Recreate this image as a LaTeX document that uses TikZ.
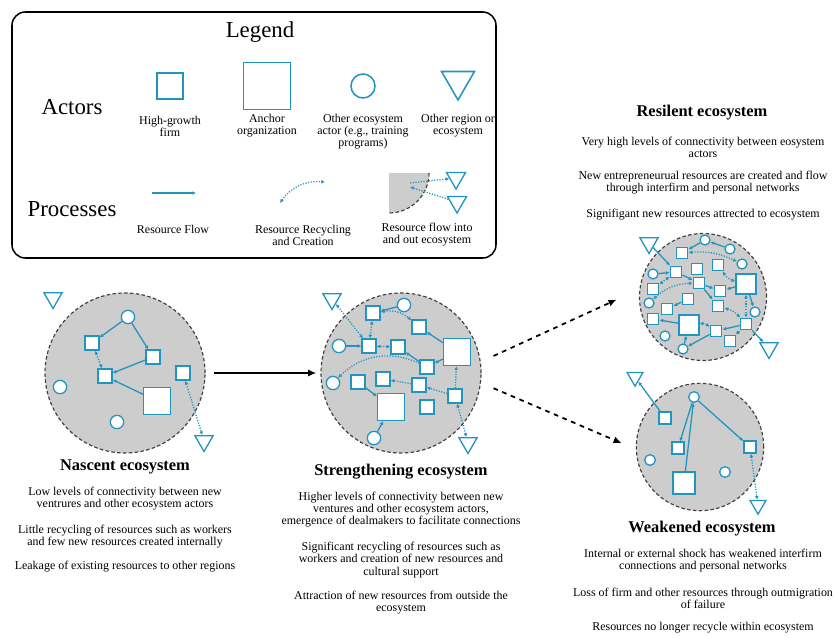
\documentclass[tikz,border=0pt]{standalone}
\usepackage{fontspec}
\setmainfont{Liberation Serif}
\usetikzlibrary{arrows.meta,shapes.geometric}

\definecolor{ecoblue}{RGB}{34,148,192}
\definecolor{ecogray}{RGB}{205,205,205}

\tikzset{
  hgfirm/.style={rectangle, draw=ecoblue, fill=white, line width=1.1pt, inner sep=0pt, minimum size=#1},
  hgfirm/.default=4.2mm,
  anchororg/.style={rectangle, draw=ecoblue, fill=white, line width=1.1pt, inner sep=0pt, minimum size=#1},
  anchororg/.default=8.1mm,
  otheractor/.style={circle, draw=ecoblue, fill=white, line width=1.1pt, inner sep=0pt, minimum size=#1},
  otheractor/.default=4mm,
  otherregion/.style={regular polygon, regular polygon sides=3, shape border rotate=180, draw=ecoblue, fill=white, line width=1.1pt, inner sep=0pt, minimum size=#1},
  otherregion/.default=6.3mm,
  ecodisk/.style={circle, draw=black!75, fill=ecogray, line width=1pt, dash pattern=on 3pt off 2pt, inner sep=0pt, minimum size=#1},
  flow/.style={draw=ecoblue, line width=1.1pt, -{Latex[length=3.2pt,width=3.2pt]}},
  recyc/.style={draw=ecoblue, line width=1.1pt, dash pattern=on 1pt off 1.3pt, {Latex[length=3.2pt,width=3.2pt]}-{Latex[length=3.2pt,width=3.2pt]}},
  recout/.style={recyc, -{Latex[length=3.2pt,width=3.2pt]}},
  stagearrow/.style={draw=black, line width=1.5pt, -{Latex[length=7pt,width=6pt]}},
  stagedash/.style={draw=black, line width=1.5pt, dash pattern=on 4pt off 4pt, -{Latex[length=7pt,width=6pt]}},
  bigtitle/.style={font=\fontsize{19.5}{22}\selectfont, inner sep=0pt},
  ttl/.style={font=\fontsize{14}{16}\selectfont\bfseries, inner sep=0pt},
  txt/.style={font=\fontsize{10.2}{10.3}\selectfont, align=center, inner sep=0pt}
}

\begin{document}
\begin{tikzpicture}[x=0.3mm,y=0.3mm]
\useasboundingbox (0,0) rectangle (834,-637);

%Legend
\draw[line width=1.3pt, rounded corners=4mm] (12,-12) rectangle (496,-258);
\node[bigtitle] (legendttl) at (260,-32) {Legend};
\node[bigtitle] (actorsttl) at (72,-107) {Actors};
\node[bigtitle] (processttl) at (72,-209) {Processes};

\node[hgfirm=7.8mm, line width=1.3pt] (lgfirm) at (170,-86) {};
\node[anchororg=14.1mm, line width=1.3pt] (lganchor) at (267,-86) {};
\node[otheractor=7.2mm, line width=1.3pt] (lgactor) at (363,-86) {};
\node[otherregion=11.4mm, line width=1.3pt] (lgregion) at (458,-81) {};
\node[txt] (lgfirmtxt) at (170,-126) {High-growth\\firm};
\node[txt] (lganchortxt) at (267,-126) {Anchor\\organization};
\node[txt] (lgactortxt) at (363,-132) {Other ecosystem\\actor (e.g., training\\programs)};
\node[txt] (lgregiontxt) at (458,-126) {Other region or\\ecosystem};

\coordinate (lgflow1) at (152,-193);
\coordinate (lgflow2) at (196,-193);
\draw[flow] (lgflow1) -- (lgflow2);
\coordinate (lgrec1) at (280,-203);
\coordinate (lgrec2) at (325,-182);
\draw[recyc] (lgrec1) to[bend left=30] (lgrec2);

\fill[ecogray] (389,-173) -- (429,-173) arc[start angle=0, end angle=-90, radius=12mm] -- cycle;
\draw[draw=black!75, line width=1pt, dash pattern=on 3pt off 2pt] (429,-173) arc[start angle=0, end angle=-90, radius=12mm];
\node[otherregion=6.6mm] (lgtri1) at (456,-178) {};
\node[otherregion=6.6mm] (lgtri2) at (457,-202) {};
\coordinate (lgout) at (410,-183);
\coordinate (lgin) at (410,-187);
\draw[recout] (lgout) -- (lgtri1);
\draw[recout] (lgtri2) -- (lgin);

\node[txt] (lgflowtxt) at (173,-229) {Resource Flow};
\node[txt] (lgrectxt) at (303,-235) {Resource Recycling\\and Creation};
\node[txt] (lginouttxt) at (427,-235) {Resource flow into\\and out ecosystem};

%Ecosystems
\node[ecodisk=48mm] (nascent) at (125,-373) {};
\node[ecodisk=48mm] (streng) at (401,-373) {};
\node[ecodisk=38.1mm] (resil) at (703,-297) {};
\node[ecodisk=38.2mm] (weak) at (700,-447) {};

\draw[stagearrow, shorten <=2.4mm, shorten >=1.2mm] (nascent) -- (streng);
\draw[stagedash, shorten <=4.2mm, shorten >=7.5mm] (streng.8) -- (resil.173);
\draw[stagedash, shorten <=4.1mm, shorten >=4.6mm] (streng.-7) -- (weak.182);

%Nascent
\node[otherregion] (ntri1) at (53,-298) {};
\node[otherregion] (ntri2) at (204,-441) {};
\node[otheractor] (nc1) at (128,-317) {};
\node[otheractor] (nc2) at (60,-387) {};
\node[otheractor] (nc3) at (117,-422) {};
\node[hgfirm] (ns1) at (92,-343) {};
\node[hgfirm] (ns2) at (153,-357) {};
\node[hgfirm] (ns3) at (105,-376) {};
\node[hgfirm] (ns4) at (183,-373) {};
\node[anchororg] (nL1) at (157,-401) {};

\draw[flow] (nc1) -- (ns1);
\draw[flow] (nc1) -- (ns2);
\draw[flow] (ns2) -- (ns3);
\draw[flow] (nL1) -- (ns3);
\draw[recyc] (ns1) -- (ns3);
\draw[recyc] (ns4) -- (ntri2);

%Strengthening
\node[otherregion] (stri1) at (332,-299) {};
\node[otherregion] (stri2) at (468,-443) {};
\node[otheractor] (sc1) at (404,-305) {};
\node[otheractor] (sc2) at (339,-346) {};
\node[otheractor] (sc3) at (333,-383) {};
\node[otheractor] (sc4) at (374,-438) {};
\node[hgfirm] (ss1) at (373,-313) {};
\node[hgfirm] (ss2) at (419,-327) {};
\node[hgfirm] (ss3) at (369,-346) {};
\node[hgfirm] (ss4) at (398,-347) {};
\node[hgfirm] (ss5) at (427,-367) {};
\node[hgfirm] (ss6) at (358,-382) {};
\node[hgfirm] (ss7) at (383,-379) {};
\node[hgfirm] (ss8) at (419,-385) {};
\node[hgfirm] (ss9) at (455,-396) {};
\node[hgfirm] (ss10) at (427,-407) {};
\node[anchororg] (sL1) at (457,-352) {};
\node[anchororg] (sL2) at (391,-407) {};

\draw[flow] (sc1) -- (ss1);
\draw[recyc] (ss1) to[bend left=25] (ss2);
\draw[recyc] (ss1) -- (ss3);
\draw[recyc] (stri1) -- (ss3);
\draw[flow] (sc2) -- (ss3);
\draw[recyc] (ss4) -- (ss3);
\draw[flow] (sL1) -- (ss2);
\draw[flow] (ss5) -- (ss4);
\draw[flow] (sL1) -- (ss5);
\draw[recout] (ss5) to[bend right=35] (sc3);
\draw[recout] (ss8) -- (ss7);
\draw[recout] (ss9) -- (ss8);
\draw[recout] (ss9) -- (sL1);
\draw[recyc] (ss9) -- (stri2);
\draw[flow] (ss6) -- (sL2);
\draw[flow] (sc4) -- (sL2);

%Resilient
\node[otherregion] (rtri1) at (649,-243) {};
\node[otherregion] (rtri2) at (769,-348) {};
\node[otheractor=3mm] (rc1) at (705,-240) {};
\node[otheractor=3mm] (rc2) at (730,-249) {};
\node[otheractor=3mm] (rc3) at (742,-264) {};
\node[otheractor=3mm] (rc4) at (653,-274) {};
\node[otheractor=3mm] (rc5) at (649,-303) {};
\node[otheractor=3mm] (rc6) at (755,-312) {};
\node[otheractor=3mm] (rc7) at (665,-336) {};
\node[otheractor=3mm] (rc8) at (683,-349) {};
\node[hgfirm=3.5mm] (rs1) at (682,-253) {};
\node[hgfirm=3.5mm] (rs2) at (718,-265) {};
\node[hgfirm=3.5mm] (rs3) at (676,-272) {};
\node[hgfirm=3.5mm] (rs4) at (697,-269) {};
\node[hgfirm=3.5mm] (rs5) at (699,-283) {};
\node[hgfirm=3.5mm] (rs6) at (653,-289) {};
\node[hgfirm=3.5mm] (rs7) at (720,-291) {};
\node[hgfirm=3.5mm] (rs8) at (688,-299) {};
\node[hgfirm=3.5mm] (rs9) at (667,-309) {};
\node[hgfirm=3.5mm] (rs10) at (718,-306) {};
\node[hgfirm=3.5mm] (rs11) at (653,-319) {};
\node[hgfirm=3.5mm] (rs12) at (746,-324) {};
\node[hgfirm=3.5mm] (rs13) at (716,-331) {};
\node[hgfirm=3.5mm] (rs14) at (730,-341) {};
\node[anchororg=6mm] (rL1) at (746,-284) {};
\node[anchororg=6mm] (rL2) at (689,-325) {};

\draw[flow] (rtri1) -- (rs3);
\draw[flow] (rc2) -- (rc1);
\draw[flow] (rc1) -- (rs1);
\draw[recyc] (rs1) to[bend left=15] (rc3);
\draw[recyc] (rs2) to[bend right=20] (rL1);
\draw[flow] (rc4) -- (rs3);
\draw[recyc] (rs3) -- (rs6);
\draw[flow] (rs3) -- (rs5);
\draw[recyc] (rc5) to[bend left=20] (rs5);
\draw[flow] (rs5) -- (rs7);
\draw[flow] (rs5) -- (rs10);
\draw[flow] (rL1) -- (rs7);
\draw[flow] (rL1) -- (rc6);
\draw[recyc] (rL1) -- (rs12);
\draw[flow] (rs8) -- (rs9);
\draw[recyc] (rs10) to[bend left=15] (rs12);
\draw[flow] (rL2) -- (rs11);
\draw[recyc] (rL2) to[bend left=20] (rs13);
\draw[flow] (rs12) -- (rs13);
\draw[recyc] (rs14) -- (rs12);
\draw[flow] (rc8) -- (rL2);
\draw[flow] (rs13) -- (rc8);
\draw[flow] (rs12) -- (rtri2);

%Weakened
\node[otherregion=5.5mm] (wtri1) at (635,-377) {};
\node[otherregion=5.5mm] (wtri2) at (758,-505) {};
\node[otheractor=3.2mm] (wc1) at (694,-397) {};
\node[otheractor=3.2mm] (wc2) at (650,-460) {};
\node[otheractor=3.2mm] (wc3) at (725,-472) {};
\node[hgfirm=3.6mm] (ws1) at (665,-418) {};
\node[hgfirm=3.6mm] (ws2) at (678,-448) {};
\node[hgfirm=3.6mm] (ws3) at (750,-447) {};
\node[anchororg=6.6mm] (wL1) at (684,-483) {};

\draw[flow] (ws1) -- (wtri1);
\draw[flow] (wc1) -- (ws2);
\draw[flow] (wL1) -- (wc1);
\draw[flow] (wc1) -- (ws3);
\draw[recyc] (ws3) -- (wtri2);

%Texts
\node[ttl] (nascttl) at (125,-467) {Nascent ecosystem};
\node[txt] (nasct1) at (125,-499) {Low levels of connectivity between new\\ventrures and other ecosystem actors};
\node[txt] (nasct2) at (125,-537) {Little recycling of resources such as workers\\and few new resources created internally};
\node[txt] (nasct3) at (125,-567) {Leakage of existing resources to other regions};

\node[ttl] (strengttl) at (401,-472) {Strengthening ecosystem};
\node[txt] (strengt1) at (401,-510) {Higher levels of connectivity between new\\ventures and other ecosystem actors,\\emergence of dealmakers to facilitate connections};
\node[txt] (strengt2) at (401,-560) {Significant recycling of resources such as\\workers and creation of new resources and\\cultural support};
\node[txt] (strengt3) at (401,-603) {Attraction of new resources from outside the\\ecosystem};

\node[ttl] (resilttl) at (702,-113) {Resilent ecosystem};
\node[txt] (resilt1) at (703,-147) {Very high levels of connectivity between eosystem\\actors};
\node[txt] (resilt2) at (703,-182.5) {New entrepreneurual resources are created and flow\\through interfirm and personal networks};
\node[txt] (resilt3) at (703,-215) {Signifigant new resources attrected to ecosystem};

\node[ttl] (weakttl) at (702,-529) {Weakened ecosystem};
\node[txt] (weakt1) at (703,-561) {Internal or external shock has weakened interfirm\\connections and personal networks};
\node[txt] (weakt2) at (703,-598) {Loss of firm and other resources through outmigration\\of failure};
\node[txt] (weakt3) at (703,-628) {Resources no longer recycle within ecosystem};

\end{tikzpicture}
\end{document}
